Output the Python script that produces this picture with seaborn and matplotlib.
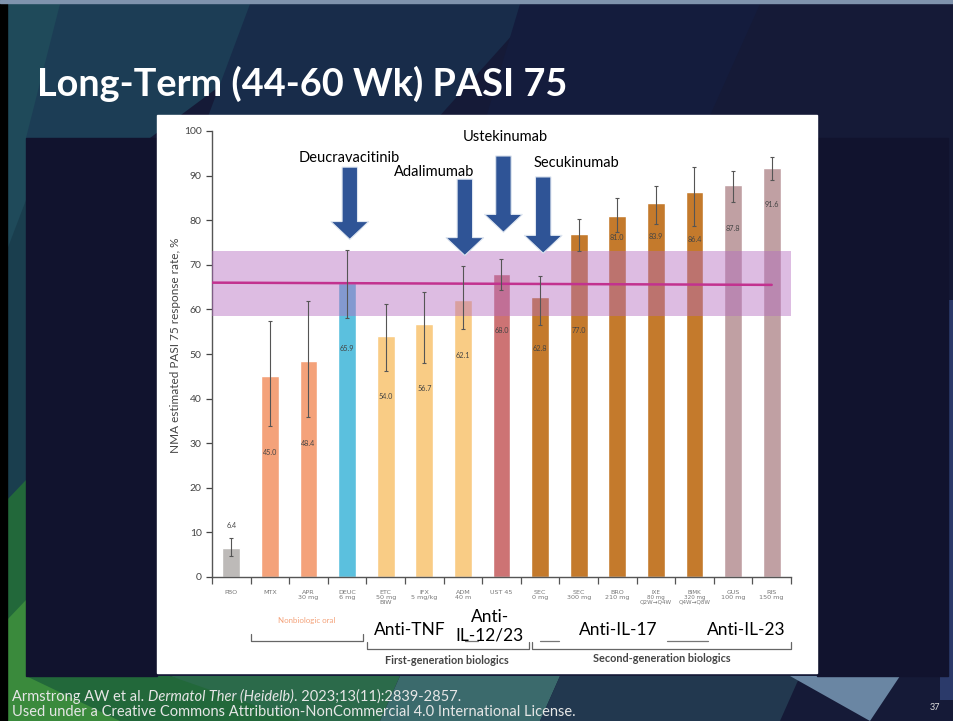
import matplotlib
matplotlib.use("Agg")
import matplotlib.pyplot as plt
import seaborn as sns
import numpy as np
import pandas as pd
from matplotlib.patches import Polygon, Rectangle
import matplotlib.transforms as mtransforms

# ---------------- data ----------------
categories = ["PBO", "MTX", "APR\n30 mg", "DEUC\n6 mg", "ETC\n50 mg\nBIW", "IFX\n5 mg/kg",
              "ADM\n40 m", "UST 45", "SEC\n0 mg", "SEC\n300 mg", "BRO\n210 mg",
              "IXE\n80 mg\nQ2W→Q4W", "BIMK\n320 mg\nQ4W→Q8W", "GUS\n100 mg", "RIS\n150 mg"]
values = [6.4, 45.0, 48.4, 65.9, 54.0, 56.7, 62.1, 68.0, 62.8, 77.0, 81.0, 83.9, 86.4, 87.8, 91.6]
ci_low = [4.6, 33.8, 35.8, 58.1, 46.1, 47.9, 55.6, 64.4, 56.4, 73.1, 77.4, 79.1, 78.7, 84.1, 89.1]
ci_high = [8.7, 57.5, 61.8, 73.4, 61.2, 64.0, 69.7, 71.4, 67.4, 80.3, 84.9, 87.7, 92.0, 91.1, 94.2]
value_labels = ["6.4", "45.0", "48.4", "65.9", "54.0", "56.7", "62.1", "68.0", "62.8",
                "77.0", "81.0", "83.9", "86.4", "87.8", "91.6"]
deuc_band = (58.6, 73.0)
deuc_line = (66.0, 65.5)

# ---------------- styling ----------------
bar_colors = ["#bdbab8", "#f4a27a", "#f4a27a", "#5bc0de", "#f9cc85", "#f9cc85", "#f9cc85",
              "#cd7374", "#c47a2c", "#c47a2c", "#c47a2c", "#c47a2c", "#c47a2c", "#c0a0a3", "#c0a0a3"]
label_y = [11.6, 27.9, 29.9, 51.2, 40.4, 42.2, 49.7, 55.3, 51.2, 55.3, 76.2, 76.3, 75.7, 78.2, 83.6]

sns.set_theme(style="white")
plt.rcParams['font.family'] = ['Lato', 'DejaVu Sans']

W, H = 954, 721
fig = plt.figure(figsize=(W / 100, H / 100), dpi=100)

# background axes in pixel coordinates
bg = fig.add_axes([0, 0, 1, 1], zorder=0)
bg.set_xlim(0, W)
bg.set_ylim(H, 0)
bg.axis("off")
bg.add_patch(Rectangle((0, 0), W, H, color="#151a37"))
polys = [
    ([(7, 4), (190, 4), (70, 200), (7, 260)], "#1f4a5a"),
    ([(60, 4), (330, 4), (150, 138), (26, 138)], "#1c3d55"),
    ([(250, 4), (540, 4), (420, 138), (200, 138)], "#182c4a"),
    ([(520, 4), (760, 4), (700, 138), (480, 138)], "#141c3d"),
    ([(7, 250), (26, 200), (26, 676), (7, 676)], "#1a3e4e"),
    ([(7, 500), (26, 480), (26, 676), (170, 676), (340, 721), (7, 721)], "#22683a"),
    ([(7, 620), (26, 600), (26, 676), (120, 721), (7, 721)], "#3a8a3c"),
    ([(170, 676), (400, 676), (380, 721), (300, 721)], "#2b6a4a"),
    ([(400, 676), (560, 676), (540, 721), (380, 721)], "#3b6a6c"),
    ([(560, 676), (800, 676), (780, 721), (540, 721)], "#22384f"),
    ([(790, 676), (900, 676), (870, 721)], "#6a86a3"),
    ([(940, 300), (954, 300), (954, 700), (940, 700)], "#2b3a6a"),
]
for pts, c in polys:
    bg.add_patch(Polygon(pts, closed=True, color=c, lw=0))
bg.add_patch(Rectangle((0, 0), 7, H, color="#000000"))
bg.add_patch(Rectangle((0, 0), W, 3, color="#7f93ad"))
# dark side panels + white chart panel
bg.add_patch(Rectangle((26, 138), 131, 538, color="#11132e"))
bg.add_patch(Rectangle((817, 138), 131, 538, color="#11132e"))
bg.add_patch(Rectangle((157, 115), 660, 558, color="#ffffff"))

# ---------------- chart ----------------
ax = fig.add_axes([212 / W, (H - 577) / H, (791 - 212) / W, (577 - 131) / H], zorder=2)
ax.patch.set_alpha(0)
df = pd.DataFrame({"drug": categories, "value": values})
pal = dict(zip(categories, bar_colors))
sns.barplot(data=df, x="drug", y="value", hue="drug", palette=pal, legend=False,
            width=0.46, saturation=1, ax=ax, zorder=2)
xs = np.arange(len(categories))
ax.errorbar(xs, values, yerr=[np.array(values) - np.array(ci_low), np.array(ci_high) - np.array(values)],
            fmt="none", ecolor="#555555", elinewidth=0.8, capsize=1.6, capthick=0.8, zorder=5)
for x, ly, t in zip(xs, label_y, value_labels):
    ax.text(x, ly, t, ha="center", va="center", fontsize=5.2, color="#444444", zorder=6)

ax.axhspan(deuc_band[0], deuc_band[1], xmin=0, xmax=1, color="#b46bc0", alpha=0.45, lw=0, zorder=4)
ax.plot([-0.5, 14.0], list(deuc_line), color="#c2328f", lw=1.8, zorder=4.5)

ax.set_xlim(-0.5, 14.5)
ax.set_ylim(0, 100)
sns.despine(ax=ax)
for s in ["left", "bottom"]:
    ax.spines[s].set_color("#555555")
    ax.spines[s].set_linewidth(1.0)
ax.set_yticks(range(0, 101, 10))
ax.tick_params(axis="y", labelsize=7.5, colors="#444444", length=4, width=0.9, left=True, direction="out")
ax.set_xticks(xs)
ax.set_xticklabels(categories, fontsize=4.6, color="#777777", linespacing=1.05,
                   family=["DejaVu Sans"])
for lbl in ax.get_xticklabels():
    if "→" in lbl.get_text():
        lbl.set_fontsize(4.1)
ax.tick_params(axis="x", length=0, pad=9)
ax.set_xticks(np.arange(-0.5, 15, 1), minor=True)
ax.tick_params(axis="x", which="minor", length=5, width=0.9, color="#555555", bottom=True, direction="out")
ax.set_xlabel("")
ax.set_ylabel("NMA estimated PASI 75 response rate, %", fontsize=8.5, color="#444444")
ax.yaxis.set_label_coords(-(212 - 181) / (791 - 212), 0.52)

# brackets below the axis
tr = mtransforms.blended_transform_factory(ax.transData, ax.transAxes)
def fy(py):
    return (577 - py) / (577 - 131)

def bracket(x0, x1, py, tick=7):
    ax.plot([x0, x0, x1, x1], [fy(py - tick), fy(py), fy(py), fy(py - tick)], transform=tr,
            color="#666666", lw=0.9, clip_on=False, zorder=3)

bracket(0.5, 3.42, 641)
bracket(3.52, 7.72, 649)
bracket(7.8, 14.5, 649)
for x0, x1 in [(6.05, 6.4), (8.0, 8.5), (11.29, 12.35)]:
    ax.plot([x0, x1], [fy(641), fy(641)], transform=tr, color="#777777", lw=0.9,
            clip_on=False, zorder=3)
ax.text(1.96, fy(621), "Nonbiologic oral", transform=tr, ha="center", va="center",
        fontsize=5.7, color="#f4a27a", clip_on=False)
ax.text(5.59, fy(661), "First-generation biologics", transform=tr, ha="center", va="center",
        fontsize=7.8, color="#444444", weight="bold", clip_on=False)
ax.text(11.16, fy(659), "Second-generation biologics", transform=tr, ha="center", va="center",
        fontsize=7.8, color="#444444", weight="bold", clip_on=False)

box = dict(facecolor="white", edgecolor="none", pad=1.0)
for x, py, t in [(4.63, 630, "Anti-TNF"), (6.70, 626, "Anti-\nIL-12/23"),
                 (10.02, 630, "Anti-IL-17"), (13.33, 630, "Anti-IL-23")]:
    ax.text(x, fy(py), t, transform=tr, ha="center", va="center", fontsize=12.5,
            color="#000000", bbox=box if "12/23" not in t else None,
            linespacing=1.2, clip_on=False, zorder=8)

# arrows
def down_arrow(xc, ytop, ytip, shaft=0.2, head=0.49, head_len=4.0):
    yh = ytip + head_len
    pts = [(xc - shaft, ytop), (xc + shaft, ytop), (xc + shaft, yh), (xc + head, yh),
           (xc, ytip), (xc - head, yh), (xc - shaft, yh)]
    ax.add_patch(Polygon(pts, closed=True, facecolor="#2f5496", edgecolor="#dde5f0",
                         lw=0.8, zorder=9, clip_on=False))

down_arrow(3.07, 91.9, 75.7)
down_arrow(6.05, 89.2, 72.1)
down_arrow(7.05, 94.4, 77.3)
down_arrow(8.08, 89.7, 72.6)
for x, y, t in [(3.05, 93.9, "Deucravacitinib"), (5.25, 90.8, "Adalimumab"),
                (7.09, 98.7, "Ustekinumab"), (8.93, 92.8, "Secukinumab")]:
    ax.text(x, y, t, ha="center", va="center", fontsize=10.5, color="#000000",
            clip_on=False, zorder=9)

# ---------------- slide text ----------------
fig.text(37 / W, 1 - 84 / H, "Long-Term (44-60 Wk) PASI 75", fontsize=27.3, weight="bold",
         color="white", va="center", ha="left")

fig.canvas.draw()
rend = fig.canvas.get_renderer()
x = 12
pieces = [("Armstrong AW et al. ", "normal"), ("Dermatol Ther (Heidelb)", "italic"),
          (". 2023;13(11):2839-2857.", "normal")]
for t, st in pieces:
    tt = fig.text(x / W, 1 - 697 / H, t, fontsize=10.5, color="#e6e6e6", style=st,
                  va="center", ha="left")
    bb = tt.get_window_extent(renderer=rend)
    x = bb.x1
fig.text(12 / W, 1 - 712 / H,
         "Used under a Creative Commons Attribution-NonCommercial 4.0 International License.",
         fontsize=10.5, color="#e6e6e6", va="center", ha="left")
fig.text(935 / W, 1 - 707 / H, "37", fontsize=6.5, color="#dddddd", va="center", ha="center")

fig.savefig("out.png", dpi=100)
